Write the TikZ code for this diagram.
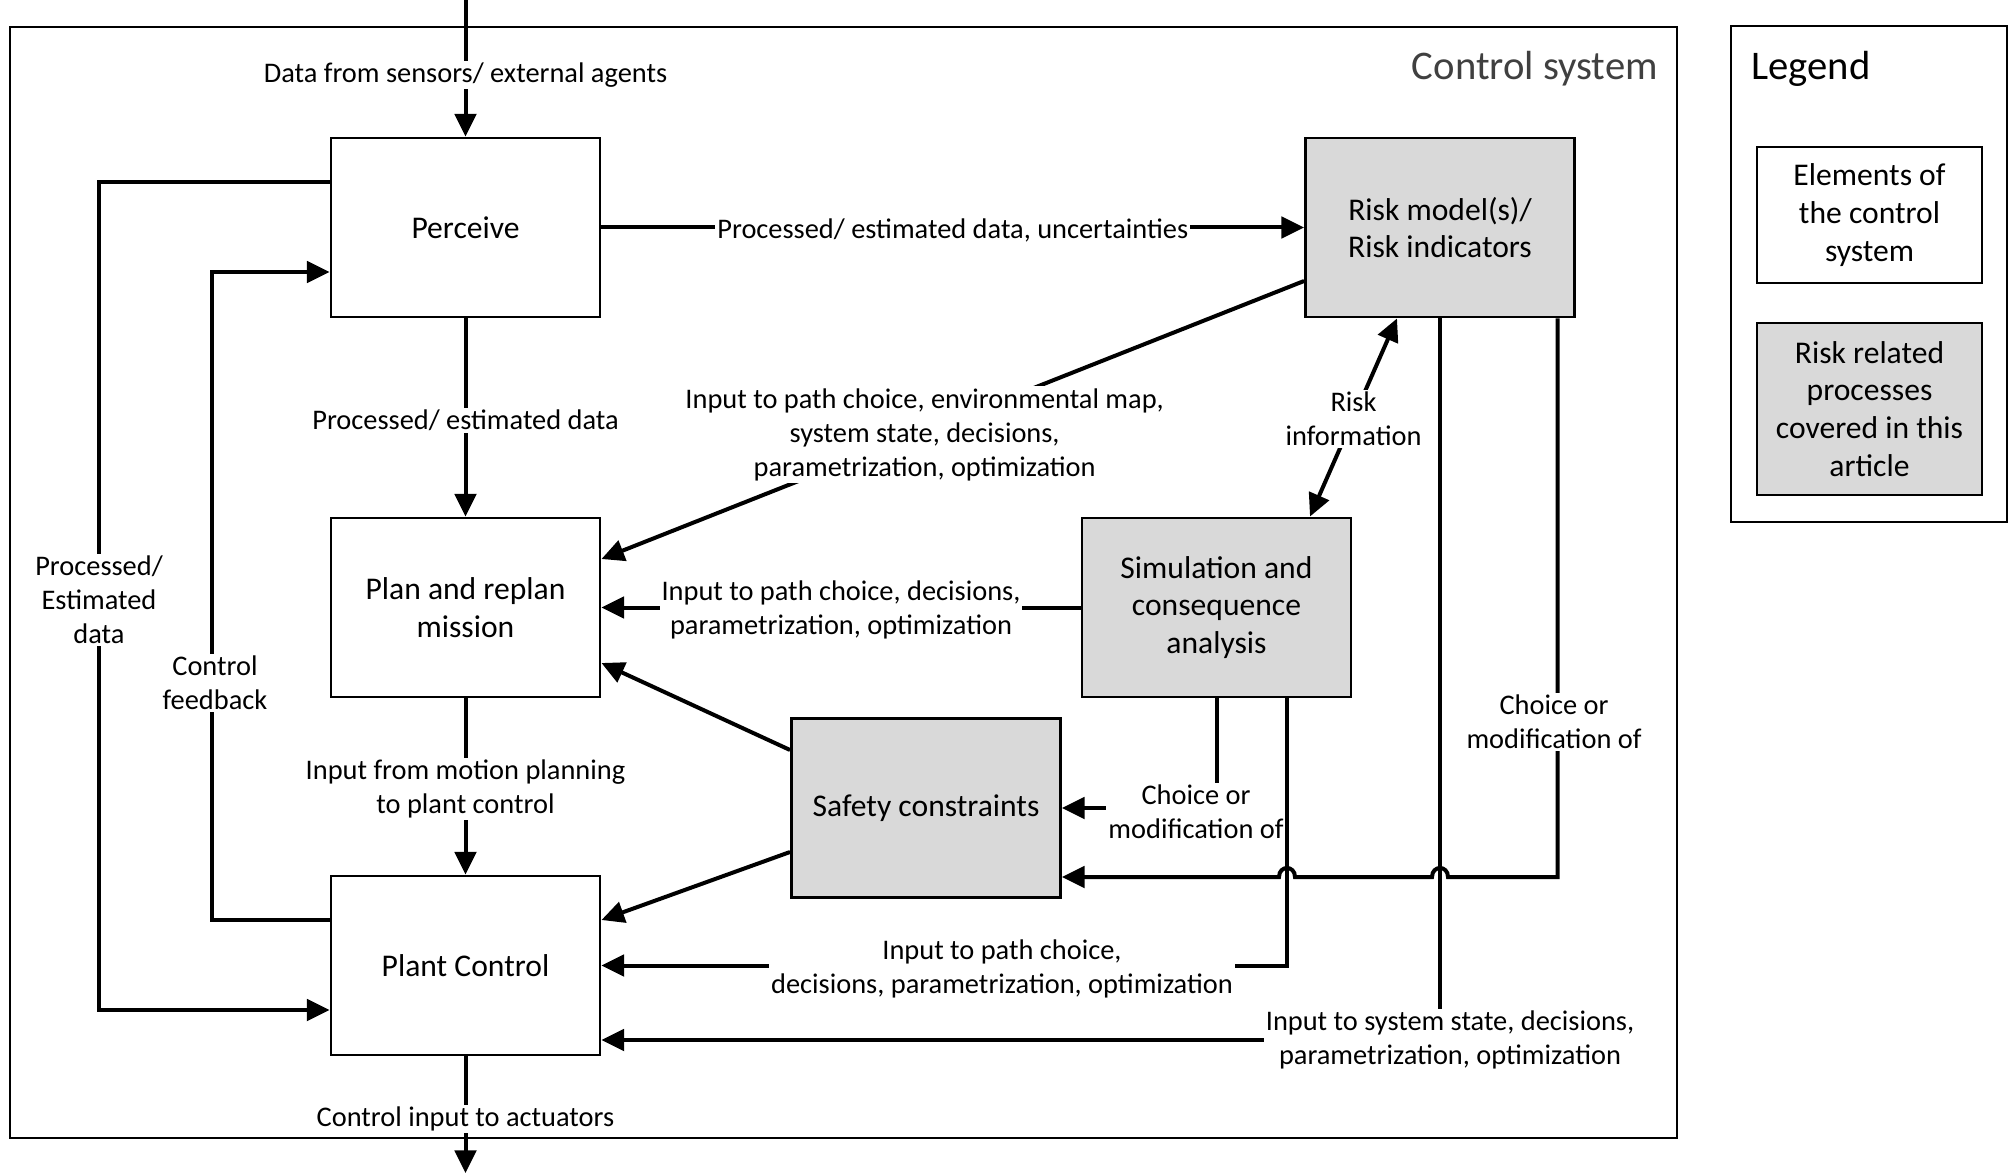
\documentclass[tikz,border=0pt]{standalone}
\usepackage{fontspec}
\setmainfont{Carlito}
\usetikzlibrary{arrows.meta}
\definecolor{riskgray}{RGB}{217,217,217}
\newcommand\myNodeFont{\fontsize{23.7}{28.4}\selectfont}
\newcommand\myLabFont{\fontsize{21.3}{25.5}\selectfont}
\newcommand\myTitleFont{\fontsize{30.5}{36}\selectfont}
\begin{document}
\begin{tikzpicture}[x=0.75pt,y=-0.75pt,
  box/.style={draw, line width=2.2pt, minimum width=201.75pt, minimum height=134.25pt,
    inner sep=0pt, align=center, font=\myNodeFont},
  riskbox/.style={box, fill=riskgray},
  conn/.style={line width=3pt, -{Triangle[length=17pt,width=16pt]}},
  conntwo/.style={line width=3pt, {Triangle[length=17pt,width=16pt]}-{Triangle[length=17pt,width=16pt]}},
  lab/.style={fill=white, inner sep=1.5pt, align=center, font=\myLabFont},
  frame/.style={line width=1.9pt},
]
\useasboundingbox (0,0) rectangle (2010,1173);
\fill[white] (0,0) rectangle (2010,1173);

% frames
\draw[frame] (10,27) rectangle (1677,1138);
\node[anchor=east, font=\myTitleFont, text=black!75, inner sep=0pt] (ctrltitle) at (1658,69) {Control system};

\draw[line width=1.5pt] (1731,26) rectangle (2007,522);
\node[anchor=west, font=\myTitleFont, inner sep=0pt] (legtitle) at (1751,69) {Legend};
\node[box, line width=2pt, minimum width=168.75pt, minimum height=102pt] (leg1) at (1869.5,215) {Elements of\\the control\\system};
\node[riskbox, line width=2pt, minimum width=168.75pt, minimum height=129pt] (leg2) at (1869.5,409) {Risk related\\processes\\covered in this\\article};

% main boxes
\node[box] (perceive) at (465.5,227.5) {Perceive};
\node[box] (plan) at (465.5,607.5) {Plan and replan\\mission};
\node[box] (plant) at (465.5,965.5) {Plant Control};
\node[riskbox] (risk) at (1440,227.5) {Risk model(s)/\\Risk indicators};
\node[riskbox] (sim) at (1216.5,607.5) {Simulation and\\consequence\\analysis};
\node[riskbox] (safety) at (926,808) {Safety constraints};

\coordinate (topin) at (465.5,0);
\coordinate (botout) at (465.5,1173);

% vertical main chain
\draw[conn] (topin) -- (perceive.north);
\node[lab] (l1) at (465.5,75) {Data from sensors/ external agents};
\draw[conn] (perceive.south) -- (plan.north) node[lab, midway, yshift=-2pt] (l2) {Processed/ estimated data};
\draw[conn] (plan.south) -- (plant.north) node[lab, midway, yshift=-2pt] (l3) {Input from motion planning\\to plant control};
\draw[conn] (plant.south) -- (botout);
\node[lab] (l4) at (465.5,1119) {Control input to actuators};

% left loops
\draw[conn] (perceive.west |- 0,182) -- (99,182) -- (99,1010) -- (plant.west |- 0,1010);
\node[lab] (l5) at (99,600) {Processed/\\Estimated\\data};
\draw[conn] (plant.west |- 0,920) -- (211.5,920) -- (211.5,272) -- (perceive.west |- 0,272);
\node[lab] (l6) at (215,683) {Control\\feedback};

% perceive -> risk
\draw[conn] (perceive.east) -- (risk.west) node[lab, midway, yshift=-2pt] (l7) {Processed/ estimated data, uncertainties};

% risk -> plan
\draw[conn] (risk.west |- 0,281) -- (plan.east |- 0,559) node[lab, pos=0.54, yshift=-2.5pt] (l8) {Input to path choice, environmental map,\\system state, decisions,\\parametrization, optimization};

% risk information
\draw[conntwo] (sim.north -| 1310,0) -- (risk.south -| 1397,0) node[lab, midway, yshift=-1pt] (l9) {Risk\\information};

% sim -> plan
\draw[conn] (sim.west) -- (plan.east) node[lab, midway, yshift=-2pt] (l10) {Input to path choice, decisions,\\parametrization, optimization};

% safety -> plan / plant
\draw[conn] (safety.west |- 0,750) -- (plan.east |- 0,663);
\draw[conn] (safety.west |- 0,852) -- (plant.east |- 0,920);

% sim -> safety
\draw[conn] (sim.south) |- (safety.east);
\node[lab] (l11) at (1196,812) {Choice or\\modification of};

% sim -> plant
\draw[conn] (sim.south -| 1287,0) |- (plant.east);
\node[lab] (l12) at (1002,969) {Input to path choice,\\decisions, parametrization, optimization};

% risk -> safety with hops
\draw[conn] (risk.south -| 1557.5,0) -- (1557.5,877) -- (1448,877)
   .. controls (1448,865) and (1432,865) .. (1432,877) -- (1295,877)
   .. controls (1295,865) and (1279,865) .. (1279,877) -- (safety.east |- 0,877);
\node[lab] (l13) at (1554,722) {Choice or\\modification of};

% risk -> plant
\draw[conn] (risk.south) |- (plant.east |- 0,1040);
\node[lab] (l14) at (1450,1040) {Input to system state, decisions,\\parametrization, optimization};
\end{tikzpicture}
\end{document}
